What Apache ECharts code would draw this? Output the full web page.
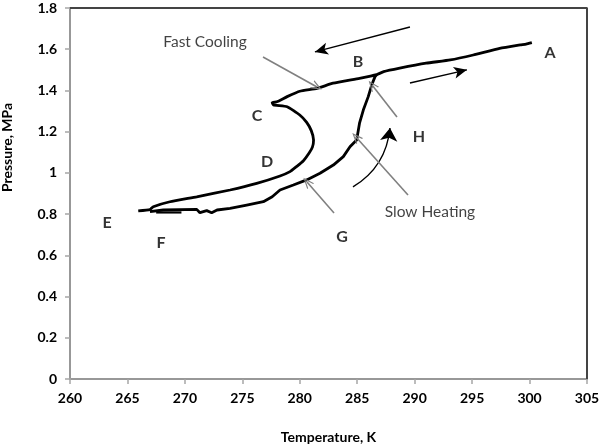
<!DOCTYPE html>
<html>
<head>
<meta charset="utf-8">
<script src="https://cdn.jsdelivr.net/npm/echarts@6/dist/echarts.min.js"></script>
<style>
  html, body { margin: 0; padding: 0; background: #fff; overflow: hidden; }
  #chart { width: 600px; height: 447px; }
</style>
</head>
<body>
<div id="chart"></div>
<script>
// cooling path A -> B -> C -> D -> E
var coolT = [300.2, 299.7, 299.2, 297.4, 295.1, 293.1, 291.0, 288.7, 287.3, 286.7, 285.2, 282.9, 281.5, 280.0, 278.9, 278.0, 277.6, 277.7, 278.9, 280.0, 280.6, 281.0, 281.2, 281.1, 280.8, 280.3, 279.7, 279.15, 278.28, 276.25, 273.93, 271.03, 268.7, 267.25, 266.96, 265.94];
var coolP = [1.632, 1.625, 1.621, 1.604, 1.572, 1.548, 1.532, 1.508, 1.491, 1.477, 1.459, 1.435, 1.410, 1.396, 1.370, 1.345, 1.341, 1.330, 1.321, 1.281, 1.245, 1.205, 1.160, 1.125, 1.095, 1.058, 1.030, 1.006, 0.985, 0.949, 0.917, 0.884, 0.860, 0.836, 0.822, 0.816];

// heating path F -> G -> H -> B
var heatT = [266.96, 268.12, 271.03, 271.31, 271.9, 272.33, 272.8, 273.93, 275.38, 276.83, 277.6, 278.28, 279.44, 280.6, 281.76, 282.92, 283.79, 284.37, 284.95, 285.2, 285.53, 285.96, 286.26, 286.55, 286.7];
var heatP = [0.812, 0.820, 0.823, 0.807, 0.817, 0.807, 0.820, 0.828, 0.844, 0.860, 0.884, 0.917, 0.941, 0.966, 0.998, 1.038, 1.079, 1.127, 1.160, 1.241, 1.305, 1.370, 1.426, 1.467, 1.477];

// short flat piece at E-F
var flatT = [267.5, 269.7];
var flatP = [0.808, 0.808];

// point labels
var labelNames = ['A', 'B', 'C', 'D', 'E', 'F', 'G', 'H'];
var labelT = [301.78, 285.07, 276.28, 277.15, 263.22, 267.92, 283.67, 290.38];
var labelP = [1.582, 1.538, 1.276, 1.053, 0.757, 0.660, 0.689, 1.174];

var noteNames = ['Fast Cooling', 'Slow Heating'];
var noteT = [271.75, 291.33];
var noteP = [1.635, 0.810];

function pairs(xs, ys) {
  return xs.map(function (x, i) { return [x, ys[i]]; });
}

var chevron = 'path://M5,0 L10,11 L8.6,11 L5,3 L1.4,11 L0,11 Z';
var font = 'Lato';

var chart = echarts.init(document.getElementById('chart'));
chart.setOption({
  animation: false,
  grid: { left: 70, right: 13, top: 8, bottom: 68, outerBoundsMode: 'none',
    show: true, borderColor: '#444', borderWidth: 1.5 },
  xAxis: {
    type: 'value', min: 260, max: 305, interval: 5,
    name: 'Temperature, K', nameLocation: 'middle', nameGap: 51,
    nameTextStyle: { fontFamily: font, fontWeight: 'bold', fontSize: 14, color: '#000' },
    axisLine: { lineStyle: { color: '#a6a6a6', width: 1.5 } },
    axisTick: { show: true, inside: false, length: 5, lineStyle: { color: '#a6a6a6', width: 1.5 } },
    axisLabel: { fontFamily: font, fontWeight: 'bold', fontSize: 14, color: '#000', margin: 12 },
    splitLine: { show: false }
  },
  yAxis: {
    type: 'value', min: 0, max: 1.8, interval: 0.2,
    name: 'Pressure, MPa', nameLocation: 'middle', nameGap: 56,
    nameTextStyle: { fontFamily: font, fontWeight: 'bold', fontSize: 14, color: '#000',
      padding: [0, 0, 0, 92] },
    axisLine: { show: true, lineStyle: { color: '#a6a6a6', width: 1.5 } },
    axisTick: { show: true, inside: false, length: 5, lineStyle: { color: '#a6a6a6', width: 1.5 } },
    axisLabel: { fontFamily: font, fontWeight: 'bold', fontSize: 14, color: '#000', margin: 13,
      formatter: function (v) { return String(Math.round(v * 10) / 10); } },
    splitLine: { show: false }
  },
  series: [
    {
      name: 'cooling', type: 'line', data: pairs(coolT, coolP), showSymbol: false, smooth: 0.15,
      lineStyle: { color: '#000', width: 2.8 }
    },
    {
      name: 'heating', type: 'line', data: pairs(heatT, heatP), showSymbol: false,
      lineStyle: { color: '#000', width: 2.8 }
    },
    {
      name: 'flat', type: 'line', data: pairs(flatT, flatP), showSymbol: false,
      lineStyle: { color: '#000', width: 2.2 }
    },
    {
      name: 'letters', type: 'scatter', symbolSize: 0,
      data: labelNames.map(function (n, i) { return { name: n, value: [labelT[i], labelP[i]] }; }),
      label: { show: true, position: 'inside', formatter: '{b}', color: '#000',
        fontFamily: font, fontWeight: 'bold', fontSize: 16 }
    },
    {
      name: 'notes', type: 'scatter', symbolSize: 0,
      data: noteNames.map(function (n, i) { return { name: n, value: [noteT[i], noteP[i]] }; }),
      label: { show: true, position: 'inside', formatter: '{b}', color: '#111',
        fontFamily: font, fontSize: 15.5 },
      markLine: {
        silent: true, animation: false,
        label: { show: false },
        data: [
          // gray pointers
          [{ coord: [276.8, 1.562], symbol: 'none' }, { coord: [281.5, 1.417], symbol: chevron, symbolSize: [9, 11] }],
          [{ coord: [289.42, 0.893], symbol: 'none' }, { coord: [284.89, 1.174], symbol: chevron, symbolSize: [9, 11] }],
          [{ coord: [288.46, 1.271], symbol: 'none' }, { coord: [286.29, 1.426], symbol: chevron, symbolSize: [9, 11] }],
          [{ coord: [282.98, 0.805], symbol: 'none' }, { coord: [280.63, 0.956], symbol: chevron, symbolSize: [9, 11] }]
        ],
        lineStyle: { color: '#808080', width: 1.6, type: 'solid' }
      }
    },
    {
      name: 'arrows', type: 'scatter', data: [],
      markLine: {
        silent: true, animation: false,
        label: { show: false },
        symbol: ['none', 'arrow'], symbolSize: [9, 13],
        lineStyle: { color: '#000', width: 1.4, type: 'solid' },
        data: [
          [{ coord: [289.59, 1.708] }, { coord: [281.32, 1.587] }],
          [{ coord: [289.59, 1.436] }, { coord: [294.55, 1.500] }]
        ]
      }
    },
    {
      // plot frame, top and right sides
      name: 'frame', type: 'scatter', data: [],
      markLine: {
        silent: true, animation: false,
        label: { show: false },
        symbol: ['none', 'none'],
        lineStyle: { color: '#444', width: 2, type: 'solid' },
        data: [
          [{ coord: [260, 1.8] }, { coord: [305, 1.8] }],
          [{ coord: [305, 1.8] }, { coord: [305, 0] }]
        ]
      }
    },
    {
      name: 'curvedArrow', type: 'lines', coordinateSystem: 'cartesian2d', silent: true,
      symbol: ['none', 'arrow'], symbolSize: [9, 13],
      lineStyle: { color: '#000', width: 1.4, opacity: 1, curveness: -0.25 },
      data: [{ coords: [[284.63, 0.932], [287.85, 1.218]] }]
    }
  ]
});
</script>
</body>
</html>
